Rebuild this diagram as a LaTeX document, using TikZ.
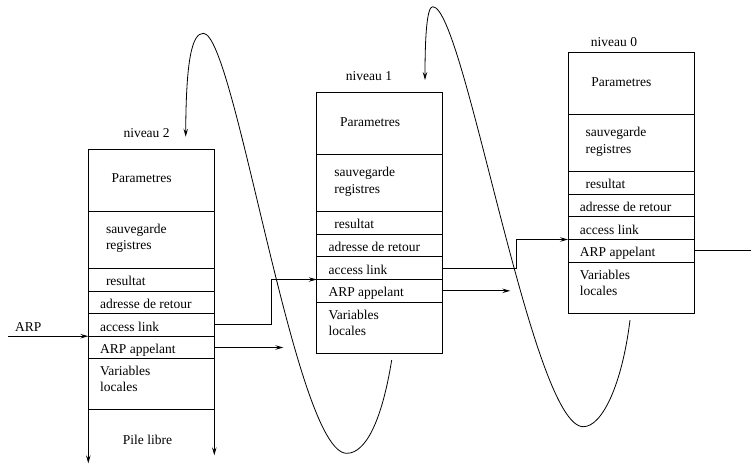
\documentclass[tikz,border=0pt]{standalone}
\usepackage{fontspec}
\setmainfont{Liberation Serif}
\usetikzlibrary{arrows.meta}
\tikzset{
  lbl/.style={anchor=base west, inner sep=0pt, font=\fontsize{13.5}{16}\selectfont},
  ln/.style={line width=0.8pt},
  arr/.style={-{Stealth[length=8pt,width=4.5pt,inset=3pt]}},
  stackpic/.pic={
    \draw[ln] (0,0) rectangle (126,260.8);
    \foreach \yy in {62.3,119.2,142,164.5,187.2,209.8} \draw[ln] (0,\yy) -- (126,\yy);
    \node[lbl] (par) at (23.2,33.8) {Parametres};
    \node[lbl] (sau) at (17.5,84) {sauvegarde};
    \node[lbl] (reg) at (17.5,100.8) {registres};
    \node[lbl] (res) at (17.5,136) {resultat};
    \node[lbl] (adr) at (11.7,159.3) {adresse de retour};
    \node[lbl] (acc) at (11.7,182) {access link};
    \node[lbl] (app) at (11.7,204.3) {ARP appelant};
    \node[lbl] (var) at (11.7,226.7) {Variables};
    \node[lbl] (loc) at (11.7,242.7) {locales};
    \coordinate (alR) at (126,175.85);
    \coordinate (apR) at (126,198.5);
    \coordinate (in) at (0,187.2);
    \coordinate (BL) at (0,260.8);
    \coordinate (BR) at (126,260.8);
  }
}
\begin{document}
\begin{tikzpicture}[x=1pt,y=-1pt]
\useasboundingbox (0,0) rectangle (751,464);
\pic (s2) at (88.3,149) {stackpic};
\pic (s1) at (316.7,92.3) {stackpic};
\pic (s0) at (568,52.3) {stackpic};
% level labels
\node[lbl] (n2) at (123.3,137.3) {niveau 2};
\node[lbl] (n1) at (345.7,80.7) {niveau 1};
\node[lbl] (n0) at (590.7,46.7) {niveau 0};
% free stack below level 2
\draw[ln,arr] (s2BL) -- ++(0,53.5);
\draw[ln,arr] (s2BR) -- ++(0,45.5);
\node[lbl] (pile) at (122.7,444) {Pile libre};
% ARP pointer
\node[lbl] (arp) at (15,331) {ARP};
\coordinate (arpS) at (8.3,336.2);
\draw[ln,arr] (arpS) -- (s2in);
% access links
\draw[ln,arr] (s2alR) -- ++(57.4,0) |- (s1in);
\draw[ln,arr] (s1alR) -- ++(74,0) |- (s0in);
% ARP appelant pointers
\draw[ln,arr] (s2apR) -- ++(69,0);
\draw[ln,arr] (s1apR) -- ++(67.5,0);
\draw[ln] (s0apR) -- ++(58,0);
% curved links
\coordinate (cAs) at (391.7,360);
\coordinate (cAm) at (346.7,453.3);
\coordinate (cAt) at (203.3,33.3);
\coordinate (cAe) at (185.7,136.7);
\draw[ln,arr] (cAs) .. controls (382,420) and (366,453.3) .. (cAm)
  .. controls (295,453.3) and (235,33.3) .. (cAt)
  .. controls (192,33.3) and (186,60) .. (cAe);
\coordinate (cBs) at (630,320);
\coordinate (cBm) at (583.3,426.7);
\coordinate (cBt) at (432.7,6.7);
\coordinate (cBe) at (425,80);
\draw[ln,arr] (cBs) .. controls (622,385) and (602,426.7) .. (cBm)
  .. controls (531.6,426.7) and (464.4,6.7) .. (cBt)
  .. controls (427,6.7) and (425,35) .. (cBe);
\end{tikzpicture}
\end{document}
